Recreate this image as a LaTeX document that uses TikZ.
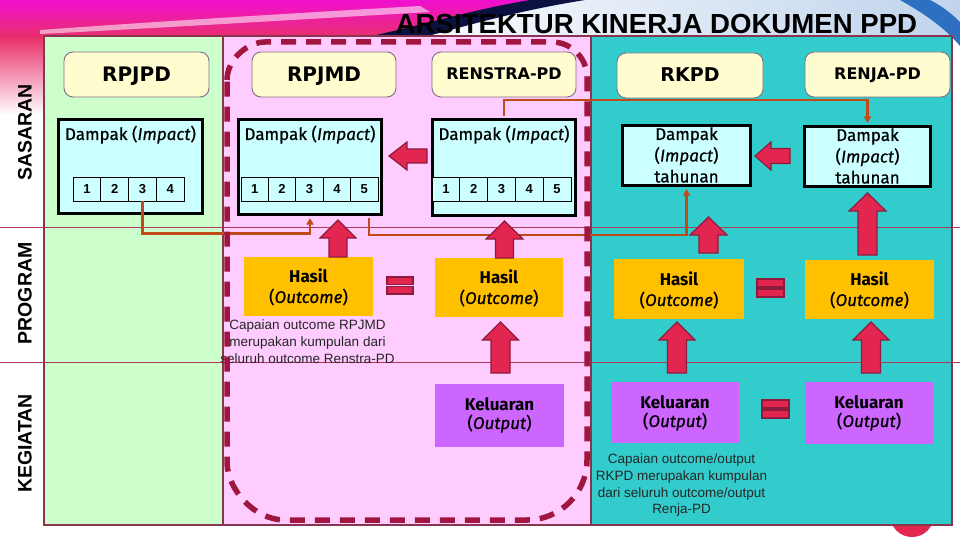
\documentclass[tikz,border=0pt]{standalone}
\usepackage{fontspec}
\setmainfont{Fira Sans}
\newfontfamily\medfont{Fira Sans}[FakeBold=0.6]
\newfontfamily\hdrfont{DejaVu Sans}
\newfontfamily\arialfont{Liberation Sans}
\usetikzlibrary{arrows.meta,calc}
\definecolor{cgreen}{HTML}{CCFFCC}
\definecolor{cpink}{HTML}{FFCCFF}
\definecolor{cteal}{HTML}{33CCCC}
\definecolor{chdr}{HTML}{FFFCCF}
\definecolor{chdrline}{HTML}{7F6F88}
\definecolor{ccyan}{HTML}{CCFFFF}
\definecolor{cgold}{HTML}{FFC000}
\definecolor{cviolet}{HTML}{CC66FF}
\definecolor{carrow}{HTML}{E3264F}
\definecolor{carrowline}{HTML}{8C1C3F}
\definecolor{cconn}{HTML}{C04A18}
\definecolor{cdash}{HTML}{A0163E}
\definecolor{cframe}{HTML}{8A3550}
\definecolor{crow}{HTML}{B03A5A}
\definecolor{cmag}{HTML}{F010D0}
\definecolor{cmag2}{HTML}{E8306A}
\definecolor{cnavy}{HTML}{0C1240}
\definecolor{cblue}{HTML}{2D6FC0}
\newcommand{\UpBlock}[6]{%
  \filldraw[bigarrow] (#1,#2) -- (#1+#5,#3) -- (#1+#6,#3) -- (#1+#6,#4) -- (#1-#6,#4) -- (#1-#6,#3) -- (#1-#5,#3) -- cycle;}
\newcommand{\LeftBlock}[6]{%
  \filldraw[bigarrow] (#1,#2) -- (#3,#2-#5) -- (#3,#2-#6) -- (#4,#2-#6) -- (#4,#2+#6) -- (#3,#2+#6) -- (#3,#2+#5) -- cycle;}
\newcommand{\EqSign}[4]{%
  \filldraw[eqbar] (#1,#3) rectangle (#2,{#3+(#4-#3)*0.44});
  \filldraw[eqbar] (#1,{#4-(#4-#3)*0.44}) rectangle (#2,#4);}
\begin{document}
\begin{tikzpicture}[x=1pt,y=-1pt,
  hdrbox/.style={draw=chdrline, line width=0.9pt, fill=chdr, rounded corners=9pt, inner sep=0pt},
  hdrtxt/.style={anchor=base, inner sep=0pt, font=\hdrfont\bfseries\fontsize{#1}{#1}\selectfont},
  dbox/.style={draw=black, line width=3.5pt, fill=ccyan, inner sep=0pt},
  cell/.style={draw=black, line width=0.8pt, fill=ccyan, minimum height=24pt, inner sep=0pt, font=\arialfont\bfseries\fontsize{13}{15}\selectfont},
  hbox/.style={fill=cgold, inner sep=0pt},
  kbox/.style={fill=cviolet, inner sep=0pt},
  btxt/.style={anchor=base, inner sep=0pt, font=\medfont\fontsize{17}{20}\selectfont},
  bbtxt/.style={anchor=base, inner sep=0pt, font=\bfseries\fontsize{17}{20}\selectfont},
  conn/.style={draw=cconn, line width=2.6pt, -{Triangle[length=6.5pt,width=7pt]}},
  bigarrow/.style={fill=carrow, draw=carrowline, line width=1.2pt, line join=miter},
  eqbar/.style={fill=carrow, draw=carrowline, line width=1.2pt},
  rowline/.style={draw=crow, line width=1pt},
  side/.style={rotate=90, inner sep=0pt, font=\arialfont\bfseries\fontsize{19.5}{22}\selectfont},
  note/.style={anchor=base, inner sep=0pt, text=black!85, font=\arialfont\fontsize{13.5}{17}\selectfont},
  dashbox/.style={draw=cdash, line width=5.5pt, dash pattern=on 15pt off 10pt}
]
\useasboundingbox (0,0) rectangle (960,540);
\fill[white] (0,0) rectangle (960,540);
% background decoration
\shade[top color=cmag, bottom color=cmag2] (0,0) -- (560,0) .. controls (480,14) and (420,28) .. (360,38) -- (0,38) -- cycle;
\shade[top color=cmag2, bottom color=white] (0,37) rectangle (44,115);
\fill[white, opacity=0.55] (40,30) .. controls (150,22) and (280,14) .. (420,6) -- (430,12) .. controls (290,20) and (160,28) .. (40,34) -- cycle;
\shade[left color=white, right color=cblue!30] (560,0) .. controls (480,14) and (420,28) .. (360,38) -- (960,38) -- (960,0) -- cycle;
\fill[cnavy] (362,38) .. controls (420,26) and (470,10) .. (530,0) -- (585,0) .. controls (510,12) and (460,28) .. (420,38) -- cycle;
\fill[cblue] (900,0) .. controls (925,14) and (945,28) .. (960,46) -- (960,22) .. controls (950,12) and (940,5) .. (930,0) -- cycle;
% title
\node[anchor=base, inner sep=0pt, font=\arialfont\bfseries\fontsize{27.6}{30}\selectfont] (title) at (656.5,34) {ARSITEKTUR KINERJA DOKUMEN PPD};
% red circle below frame
\fill[carrow] (912,515) circle (22);
% columns
\fill[cgreen] (44,36) rectangle (223,525);
\fill[cpink] (223,36) rectangle (591,525);
\fill[cteal] (591,36) rectangle (952,525);
% row lines
\draw[rowline] (0,227) -- (960,227);
\draw[rowline] (0,362) -- (960,362);
% frame
\draw[cframe, line width=1.6pt] (44,36) rectangle (952,525);
\draw[cframe, line width=1.6pt] (223,36) -- (223,525);
\draw[cframe, line width=1.6pt] (591,36) -- (591,525);
% side labels
\node[side] (sas) at (25,132.5) {SASARAN};
\node[side] (prog) at (25,293.5) {PROGRAM};
\node[side] (keg) at (25,443.5) {KEGIATAN};
% header boxes
\node[hdrbox, minimum width=145, minimum height=45] (rpjpd) at (136.5,74.5) {};
\node[hdrtxt=20] (rpjpdT) at (136.5,82) {RPJPD};
\node[hdrbox, minimum width=144, minimum height=45] (rpjmd) at (324,74.5) {};
\node[hdrtxt=20] (rpjmdT) at (324,82) {RPJMD};
\node[hdrbox, minimum width=144, minimum height=45] (renstra) at (504,74.5) {};
\node[hdrtxt=16] (renstraT) at (504,80) {RENSTRA-PD};
\node[hdrbox, minimum width=146, minimum height=45] (rkpd) at (690,75.5) {};
\node[hdrtxt=19] (rkpdT) at (690,82) {RKPD};
\node[hdrbox, minimum width=145, minimum height=45] (renja) at (877.5,74.5) {};
\node[hdrtxt=16] (renjaT) at (877.5,80) {RENJA-PD};
% dampak boxes
\node[dbox, minimum width=144, minimum height=94] (dA) at (130.5,166.5) {};
\node[dbox, minimum width=143, minimum height=95] (dB) at (310,167) {};
\node[dbox, minimum width=143, minimum height=96] (dC) at (504,167.5) {};
\node[dbox, minimum width=128, minimum height=60] (dD) at (686.5,155.5) {};
\node[dbox, minimum width=126, minimum height=60] (dE) at (867.5,156.5) {};
\node[btxt] (dAT) at (130.5,140) {Dampak (\textit{Impact})};
\node[btxt] (dBT) at (310,140) {Dampak (\textit{Impact})};
\node[btxt] (dCT) at (504,140) {Dampak (\textit{Impact})};
\node[btxt] (dDT1) at (686.5,140) {Dampak};
\node[btxt] (dDT2) at (686.5,161.5) {(\textit{Impact})};
\node[btxt] (dDT3) at (686.5,182.5) {tahunan};
\node[btxt] (dET1) at (867.5,141) {Dampak};
\node[btxt] (dET2) at (867.5,162.5) {(\textit{Impact})};
\node[btxt] (dET3) at (867.5,183.5) {tahunan};
% cells
\foreach \i in {1,...,4} \node[cell, minimum width=27.75] (cA\i) at ({73+27.75*(\i-0.5)},189) {\i};
\foreach \i in {1,...,5} \node[cell, minimum width=27.4] (cB\i) at ({241+27.4*(\i-0.5)},189) {\i};
\foreach \i in {1,...,5} \node[cell, minimum width=27.8] (cC\i) at ({432+27.8*(\i-0.5)},189) {\i};
% hasil boxes
\node[hbox, minimum width=129, minimum height=59] (hB) at (308.5,286.5) {};
\node[hbox, minimum width=128, minimum height=59] (hC) at (499,287.5) {};
\node[hbox, minimum width=130, minimum height=60] (hD) at (679,289) {};
\node[hbox, minimum width=129, minimum height=59] (hE) at (869.5,289.5) {};
\node[bbtxt] (hBT1) at (308.5,282) {Hasil};
\node[btxt] (hBT2) at (308.5,303) {(\textit{Outcome})};
\node[bbtxt] (hCT1) at (499,283) {Hasil};
\node[btxt] (hCT2) at (499,304) {(\textit{Outcome})};
\node[bbtxt] (hDT1) at (679,285) {Hasil};
\node[btxt] (hDT2) at (679,306) {(\textit{Outcome})};
\node[bbtxt] (hET1) at (869.5,285) {Hasil};
\node[btxt] (hET2) at (869.5,306) {(\textit{Outcome})};
% keluaran boxes
\node[kbox, minimum width=129, minimum height=63] (kC) at (499.5,415) {};
\node[kbox, minimum width=128, minimum height=61] (kD) at (675,412.5) {};
\node[kbox, minimum width=128, minimum height=62] (kE) at (869,413) {};
\node[bbtxt] (kCT1) at (499.5,410) {Keluaran};
\node[btxt] (kCT2) at (499.5,429) {(\textit{Output})};
\node[bbtxt] (kDT1) at (675,408) {Keluaran};
\node[btxt] (kDT2) at (675,427) {(\textit{Output})};
\node[bbtxt] (kET1) at (869,408) {Keluaran};
\node[btxt] (kET2) at (869,427) {(\textit{Output})};
% notes
\node[note] (n1a) at (307.5,329) {Capaian outcome RPJMD};
\node[note] (n1b) at (307.5,346) {merupakan kumpulan dari};
\node[note] (n1c) at (307.5,363) {seluruh outcome Renstra-PD};
\node[note] (n2a) at (681.5,463) {Capaian outcome/output};
\node[note] (n2b) at (681.5,480) {RKPD merupakan kumpulan};
\node[note] (n2c) at (681.5,497) {dari seluruh outcome/output};
\node[note] (n2d) at (681.5,513.5) {Renja-PD};
% connectors
\draw[conn] (cA3.south) -- ++(0,32) -| ([yshift=-1.8pt]dB.south);
\draw[conn] ([xshift=59pt,yshift=-1.8pt]dB.south) -- ++(0,17) -| ([yshift=-1.8pt]dD.south);
\draw[conn] ([yshift=1.8pt]dC.north) -- ++(0,-16) -| ([yshift=1.8pt]dE.north);
% block arrows
\LeftBlock{389}{156}{407}{427}{14}{7}
\LeftBlock{755}{156}{771}{790}{14}{7.5}
\UpBlock{338}{220}{238}{257}{18}{9}
\UpBlock{504.5}{221}{239}{258}{18.5}{9}
\UpBlock{708.5}{217}{235}{253}{18.5}{9.5}
\UpBlock{867.5}{193}{211}{255}{18.5}{9.5}
\UpBlock{500.5}{322}{340}{373}{18}{9.5}
\UpBlock{677}{322}{340}{373}{18}{9.5}
\UpBlock{871}{322}{340}{373}{18}{9.5}
% equals signs
\EqSign{387}{413}{277}{294}
\EqSign{757}{784}{279}{297}
\EqSign{762}{789}{400}{418}
% dashed group outline
\draw[dashbox] (227,80) .. controls (227,59) and (248,42) .. (265,42) -- (552,42) .. controls (571,42) and (587,58) .. (587,77) -- (587,460) .. controls (587,493) and (560,520) .. (527,520) -- (285,520) .. controls (253,520) and (227,488) .. (227,462) -- cycle;
\end{tikzpicture}
\end{document}
